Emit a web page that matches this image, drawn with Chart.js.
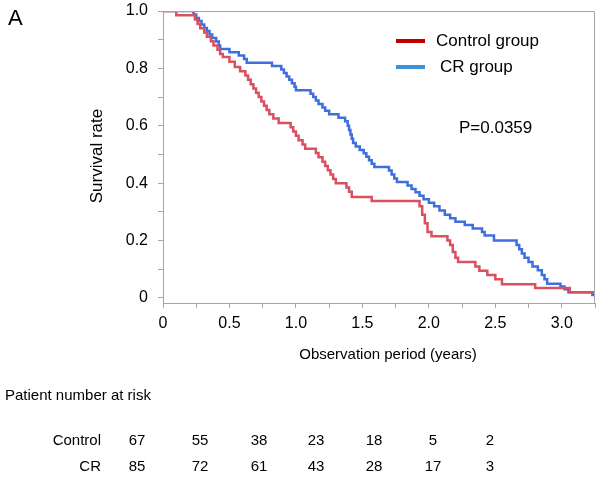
<!DOCTYPE html>
<html>
<head>
<meta charset="utf-8">
<script src="https://cdn.jsdelivr.net/npm/chart.js@4"></script>
<style>
  html, body { margin: 0; padding: 0; background: #fff; }
  #wrap { width: 602px; height: 483px; }
</style>
</head>
<body>
<div id="wrap"><canvas id="kmChart" width="602" height="483"></canvas></div>
<script>
// Kaplan-Meier steps (time in years, survival rate)
const controlTimes = [0, 0.10, 0.24, 0.26, 0.28, 0.31, 0.33, 0.36, 0.38, 0.41, 0.43, 0.45, 0.50, 0.54, 0.58, 0.62, 0.64, 0.66, 0.68, 0.70, 0.72, 0.74, 0.76, 0.78, 0.80, 0.83, 0.87, 0.96, 0.98, 1.00, 1.02, 1.05, 1.07, 1.15, 1.17, 1.20, 1.22, 1.24, 1.26, 1.28, 1.30, 1.38, 1.40, 1.42, 1.57, 1.93, 1.95, 1.97, 1.99, 2.02, 2.14, 2.16, 2.18, 2.20, 2.22, 2.35, 2.38, 2.44, 2.50, 2.55, 2.80, 3.06, 3.25];
const controlSurvival = [1.0, 0.985, 0.970, 0.955, 0.94, 0.925, 0.91, 0.895, 0.88, 0.865, 0.85, 0.84, 0.823, 0.805, 0.79, 0.775, 0.76, 0.745, 0.73, 0.715, 0.70, 0.685, 0.67, 0.655, 0.64, 0.625, 0.61, 0.595, 0.58, 0.565, 0.55, 0.535, 0.52, 0.505, 0.49, 0.475, 0.46, 0.445, 0.43, 0.415, 0.40, 0.385, 0.37, 0.352, 0.338, 0.32, 0.29, 0.26, 0.23, 0.215, 0.20, 0.185, 0.16, 0.14, 0.125, 0.11, 0.095, 0.08, 0.065, 0.048, 0.035, 0.02, 0.02];

const crTimes = [0, 0.23, 0.25, 0.27, 0.29, 0.31, 0.33, 0.35, 0.37, 0.40, 0.42, 0.43, 0.50, 0.57, 0.61, 0.63, 0.82, 0.89, 0.91, 0.93, 0.95, 0.97, 0.99, 1.00, 1.11, 1.13, 1.15, 1.17, 1.20, 1.22, 1.25, 1.32, 1.37, 1.39, 1.40, 1.41, 1.42, 1.43, 1.45, 1.48, 1.51, 1.53, 1.55, 1.57, 1.59, 1.70, 1.72, 1.74, 1.76, 1.84, 1.87, 1.90, 1.93, 1.96, 2.00, 2.04, 2.08, 2.12, 2.16, 2.20, 2.27, 2.33, 2.40, 2.42, 2.49, 2.66, 2.68, 2.70, 2.72, 2.75, 2.78, 2.82, 2.85, 2.87, 2.89, 2.99, 3.02, 3.05, 3.23, 3.25];
const crSurvival = [1.0, 0.988, 0.976, 0.965, 0.953, 0.941, 0.93, 0.918, 0.906, 0.894, 0.88, 0.868, 0.856, 0.845, 0.833, 0.82, 0.808, 0.796, 0.784, 0.772, 0.76, 0.748, 0.736, 0.724, 0.712, 0.70, 0.688, 0.676, 0.664, 0.652, 0.64, 0.628, 0.616, 0.60, 0.585, 0.57, 0.555, 0.54, 0.528, 0.516, 0.504, 0.492, 0.48, 0.468, 0.456, 0.444, 0.43, 0.416, 0.404, 0.392, 0.38, 0.368, 0.356, 0.344, 0.332, 0.32, 0.305, 0.29, 0.278, 0.266, 0.254, 0.242, 0.23, 0.218, 0.20, 0.185, 0.17, 0.155, 0.14, 0.125, 0.11, 0.097, 0.08, 0.065, 0.05, 0.04, 0.03, 0.02, 0.01, 0.01];

const xTickValues = [0, 0.25, 0.5, 0.75, 1.0, 1.25, 1.5, 1.75, 2.0, 2.25, 2.5, 2.75, 3.0, 3.25];
const xTickLabels = ['0', '', '0.5', '', '1.0', '', '1.5', '', '2.0', '', '2.5', '', '3.0', ''];
const yTickValues = [0, 0.1, 0.2, 0.3, 0.4, 0.5, 0.6, 0.7, 0.8, 0.9, 1.0];
const yTickLabels = ['0', '', '0.2', '', '0.4', '', '0.6', '', '0.8', '', '1.0'];

const riskGroups = ['Control', 'CR'];
const riskControl = [67, 55, 38, 23, 18, 5, 2];
const riskCR = [85, 72, 61, 43, 28, 17, 3];
const riskColumnsX = [137, 200, 259, 316, 374, 433, 490];

const FONT = "'Liberation Sans', Arial, sans-serif";
const axisColor = '#a6a6a6';

const toPoints = (ts, ss) => ts.map((t, i) => ({ x: t, y: ss[i] }));

const extras = {
  id: 'extras',
  afterDraw(chart) {
    const { ctx, chartArea } = chart;
    ctx.save();
    // top and right frame
    ctx.strokeStyle = axisColor;
    ctx.lineWidth = 1;
    ctx.beginPath();
    ctx.moveTo(chartArea.left, chartArea.top + 0.5);
    ctx.lineTo(chartArea.right - 0.5, chartArea.top + 0.5);
    ctx.lineTo(chartArea.right - 0.5, chartArea.bottom);
    ctx.stroke();

    ctx.fillStyle = '#000';
    ctx.textBaseline = 'middle';

    // panel letter
    ctx.font = '22px ' + FONT;
    ctx.textAlign = 'left';
    ctx.fillText('A', 8, 19);

    // axis titles
    ctx.font = '15px ' + FONT;
    ctx.textAlign = 'center';
    ctx.fillText('Observation period (years)', 388, 355);
    ctx.font = '17px ' + FONT;
    ctx.save();
    ctx.translate(97, 156);
    ctx.rotate(-Math.PI / 2);
    ctx.fillText('Survival rate', 0, 0);
    ctx.restore();

    // legend
    const legendColors = ['#c00000', '#3a93d8'];
    const legendY = [41, 67];
    chart.data.datasets.forEach((ds, i) => {
      ctx.strokeStyle = legendColors[i];
      ctx.lineWidth = 4;
      ctx.beginPath();
      ctx.moveTo(396, legendY[i]);
      ctx.lineTo(425, legendY[i]);
      ctx.stroke();
      ctx.textAlign = 'left';
      ctx.fillText(ds.label, i === 0 ? 436 : 440, legendY[i]);
    });

    // p-value
    ctx.fillText('P=0.0359', 459, 128);

    // number at risk table
    ctx.font = '15px ' + FONT;
    ctx.fillText('Patient number at risk', 5, 396);
    ctx.textAlign = 'right';
    ctx.fillText(riskGroups[0], 101, 441);
    ctx.fillText(riskGroups[1], 101, 467);
    ctx.textAlign = 'center';
    riskColumnsX.forEach((cx, i) => {
      ctx.fillText(String(riskControl[i]), cx, 441);
      ctx.fillText(String(riskCR[i]), cx, 467);
    });
    ctx.restore();
  }
};

new Chart(document.getElementById('kmChart').getContext('2d'), {
  type: 'line',
  data: {
    datasets: [
      {
        label: 'Control group',
        data: toPoints(controlTimes, controlSurvival),
        borderColor: '#d9505e',
        borderWidth: 2.5,
        stepped: true,
        pointRadius: 0,
        fill: false
      },
      {
        label: 'CR group',
        data: toPoints(crTimes, crSurvival),
        borderColor: '#3f6fdc',
        borderWidth: 2.5,
        stepped: true,
        pointRadius: 0,
        fill: false
      }
    ]
  },
  options: {
    responsive: false,
    animation: false,
    layout: { padding: { top: 11, right: 7, left: 0, bottom: 0 } },
    plugins: { legend: { display: false }, tooltip: { enabled: false } },
    scales: {
      x: {
        type: 'linear',
        min: 0,
        max: 3.25,
        afterBuildTicks: s => { s.ticks = xTickValues.map(v => ({ value: v })); },
        afterFit: s => { s.height = 180; s.paddingLeft = 0; s.paddingRight = 0; },
        grid: { drawOnChartArea: false, drawTicks: true, tickLength: 5, color: axisColor },
        border: { color: axisColor },
        ticks: {
          autoSkip: false,
          maxRotation: 0,
          padding: 6,
          color: '#000',
          font: { family: FONT, size: 16 },
          callback: (v, i) => xTickLabels[i]
        }
      },
      y: {
        type: 'linear',
        min: -0.0175,
        max: 1.0,
        afterBuildTicks: s => { s.ticks = yTickValues.map(v => ({ value: v })); },
        afterFit: s => { s.width = 163; s.paddingTop = 0; s.paddingBottom = 0; },
        grid: { drawOnChartArea: false, drawTicks: true, tickLength: 5, color: axisColor },
        border: { color: axisColor },
        ticks: {
          autoSkip: false,
          padding: 10,
          color: '#000',
          font: { family: FONT, size: 16 },
          callback: (v, i) => yTickLabels[i]
        }
      }
    }
  },
  plugins: [extras]
});
</script>
</body>
</html>
